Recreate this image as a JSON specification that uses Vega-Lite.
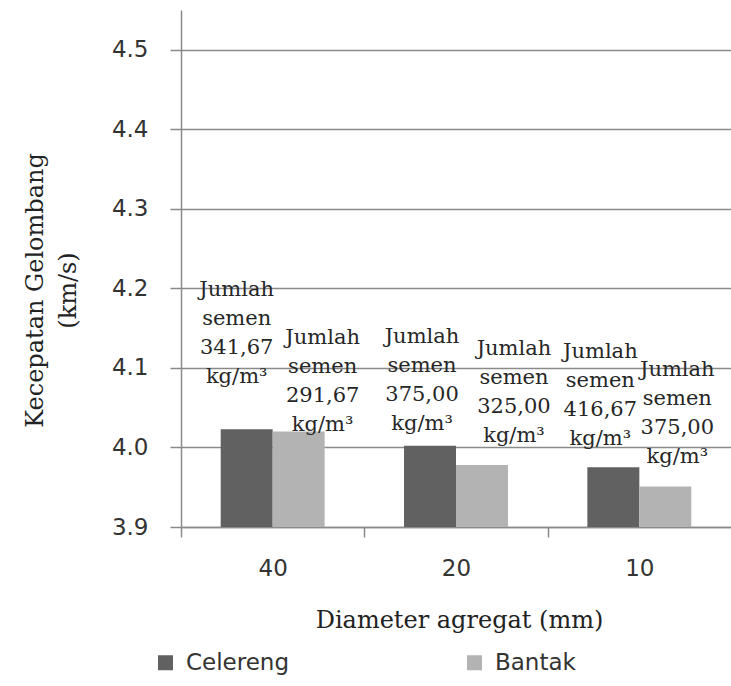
{
  "$schema": "https://vega.github.io/schema/vega-lite/v6.json",
  "width": 550,
  "height": 517,
  "autosize": "none",
  "padding": {"left": 181, "top": 10, "right": 0, "bottom": 159},
  "background": "white",
  "config": {
    "view": {"stroke": null},
    "axis": {
      "domainColor": "#8a8a8a", "domainWidth": 1.5,
      "tickColor": "#8a8a8a", "tickWidth": 1.5,
      "gridColor": "#8a8a8a", "gridWidth": 1.5,
      "labelFont": "DejaVu Sans", "labelFontSize": 23, "labelColor": "#333333",
      "titleFont": "DejaVu Serif", "titleFontSize": 24, "titleFontWeight": "normal", "titleColor": "#222222"
    },
    "legend": {
      "labelFont": "DejaVu Sans", "labelFontSize": 23, "labelColor": "#333333"
    }
  },
  "data": {
    "values": [
      {"diameter": "40", "jenis": "Celereng", "kecepatan": 4.023, "label": "Jumlah\nsemen\n341,67\nkg/m³"},
      {"diameter": "40", "jenis": "Bantak", "kecepatan": 4.020, "label": "Jumlah\nsemen\n291,67\nkg/m³"},
      {"diameter": "20", "jenis": "Celereng", "kecepatan": 4.002, "label": "Jumlah\nsemen\n375,00\nkg/m³"},
      {"diameter": "20", "jenis": "Bantak", "kecepatan": 3.978, "label": "Jumlah\nsemen\n325,00\nkg/m³"},
      {"diameter": "10", "jenis": "Celereng", "kecepatan": 3.975, "label": "Jumlah\nsemen\n416,67\nkg/m³"},
      {"diameter": "10", "jenis": "Bantak", "kecepatan": 3.951, "label": "Jumlah\nsemen\n375,00\nkg/m³"}
    ]
  },
  "encoding": {
    "x": {
      "field": "diameter", "type": "nominal", "sort": ["40", "20", "10"],
      "scale": {"paddingInner": 0.433, "paddingOuter": 0.2165},
      "axis": {
        "title": "Diameter  agregat (mm)",
        "labelAngle": 0, "labelPadding": 20, "labelBaseline": "top",
        "tickSize": 10, "bandPosition": 0, "tickOffset": -39.7, "labelOffset": 39.7,
        "titleX": 278, "titleY": 100, "titleBaseline": "alphabetic"
      }
    },
    "xOffset": {
      "field": "jenis", "type": "nominal", "sort": ["Celereng", "Bantak"],
      "scale": {"paddingInner": 0, "paddingOuter": 0}
    },
    "y": {
      "field": "kecepatan", "type": "quantitative",
      "scale": {"domain": [3.9, 4.55], "nice": false, "zero": false},
      "axis": {
        "values": [3.9, 4.0, 4.1, 4.2, 4.3, 4.4, 4.5],
        "format": ".1f",
        "grid": true,
        "tickSize": 11, "labelPadding": 22,
        "title": ["Kecepatan Gelombang", "(km/s)"],
        "titleX": -139, "titleY": 280, "titleBaseline": "alphabetic",
        "titleAlign": "center", "titleAngle": -90, "titleLineHeight": 33
      }
    }
  },
  "layer": [
    {
      "mark": {"type": "bar"},
      "encoding": {
        "y2": {"datum": 3.9},
        "color": {
          "field": "jenis", "type": "nominal", "sort": ["Celereng", "Bantak"],
          "scale": {"domain": ["Celereng", "Bantak"], "range": ["#616161", "#b3b3b3"]},
          "legend": {
            "title": null, "orient": "none", "direction": "horizontal", "columns": 2,
            "legendX": -27, "legendY": 641, "padding": 0,
            "symbolType": "square", "symbolSize": 225, "symbolStrokeWidth": 0,
            "labelOffset": 9, "columnPadding": 173
          }
        }
      }
    },
    {
      "transform": [{"filter": "datum.diameter == '40' && datum.jenis == 'Celereng'"}],
      "mark": {"type": "text", "font": "DejaVu Serif", "fontSize": 21, "lineHeight": 29, "lineBreak": "\n", "baseline": "middle", "color": "#262626", "dx": -10, "dy": -139},
      "encoding": {"text": {"field": "label"}}
    },
    {
      "transform": [{"filter": "datum.diameter == '40' && datum.jenis == 'Bantak'"}],
      "mark": {"type": "text", "font": "DejaVu Serif", "fontSize": 21, "lineHeight": 29, "lineBreak": "\n", "baseline": "middle", "color": "#262626", "dx": 24, "dy": -94},
      "encoding": {"text": {"field": "label"}}
    },
    {
      "transform": [{"filter": "datum.diameter == '20' && datum.jenis == 'Celereng'"}],
      "mark": {"type": "text", "font": "DejaVu Serif", "fontSize": 21, "lineHeight": 29, "lineBreak": "\n", "baseline": "middle", "color": "#262626", "dx": -8, "dy": -109},
      "encoding": {"text": {"field": "label"}}
    },
    {
      "transform": [{"filter": "datum.diameter == '20' && datum.jenis == 'Bantak'"}],
      "mark": {"type": "text", "font": "DejaVu Serif", "fontSize": 21, "lineHeight": 29, "lineBreak": "\n", "baseline": "middle", "color": "#262626", "dx": 32, "dy": -116},
      "encoding": {"text": {"field": "label"}}
    },
    {
      "transform": [{"filter": "datum.diameter == '10' && datum.jenis == 'Celereng'"}],
      "mark": {"type": "text", "font": "DejaVu Serif", "fontSize": 21, "lineHeight": 29, "lineBreak": "\n", "baseline": "middle", "color": "#262626", "dx": -13, "dy": -115},
      "encoding": {"text": {"field": "label"}}
    },
    {
      "transform": [{"filter": "datum.diameter == '10' && datum.jenis == 'Bantak'"}],
      "mark": {"type": "text", "font": "DejaVu Serif", "fontSize": 21, "lineHeight": 29, "lineBreak": "\n", "baseline": "middle", "color": "#262626", "dx": 12, "dy": -116},
      "encoding": {"text": {"field": "label"}}
    }
  ]
}
